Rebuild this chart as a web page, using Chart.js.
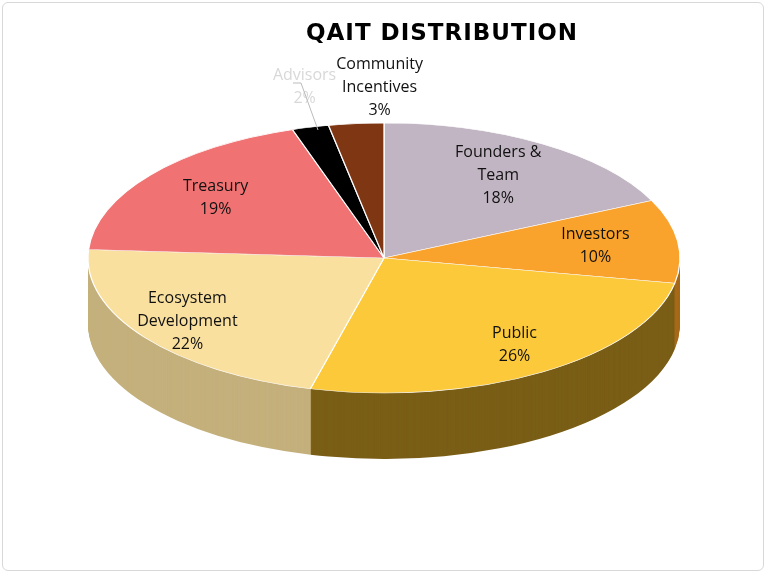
<!DOCTYPE html>
<html><head><meta charset="utf-8">
<script src="https://cdn.jsdelivr.net/npm/chart.js@4"></script>
<style>
html,body{margin:0;padding:0;background:#fff}
#wrap{position:absolute;left:2px;top:2px;width:762px;height:569px;border:1px solid #d8d8d8;border-radius:6px;box-sizing:border-box}
canvas{position:absolute;left:0;top:0}
</style></head><body>
<div id="wrap"></div>
<canvas id="c" width="768" height="575"></canvas>
<script>
const categories = ["Founders & Team","Investors","Public","Ecosystem Development","Treasury","Advisors","Community Incentives"];
const labelLines = [["Founders &","Team"],["Investors"],["Public"],["Ecosystem","Development"],["Treasury"],["Advisors"],["Community","Incentives"]];
const values = [18,10,26,22,19,2,3];
const colors = ["#C1B5C3","#F9A22C","#FCC93A","#FAE09F","#F07272","#000000","#7E3613"];
const sideColors = ["#8a7f8b","#a86a18","#7a5e16","#c4b07c","#a84c4c","#000000","#4a1f0a"];
const labelFactor = [0.72,0.72,0.76,0.8,0.72,1.31,1.27];
const labelDx = [0,0,10,-5,0,17,31];
const labelColor = ["#111","#111","#111","#111","#111","#d8d8d8","#111"];

const CX=384, CY=258, RX=296, RY=135, DEPTH=66;
function xf(ctx,el){
  const r=el.outerRadius;
  ctx.translate(CX,CY); ctx.scale(RX/r,RY/r); ctx.translate(-el.x,-el.y);
}
const pie3d={
  id:'pie3d',
  beforeDatasetsDraw(chart){
    const ctx=chart.ctx, meta=chart.getDatasetMeta(0);
    for(let d=DEPTH; d>=1; d--){
      meta.data.forEach((el,i)=>{
        ctx.save();
        ctx.translate(0,d);
        xf(ctx,el);
        ctx.fillStyle=sideColors[i];
        ctx.beginPath(); ctx.moveTo(el.x,el.y);
        ctx.arc(el.x,el.y,el.outerRadius,el.startAngle,el.endAngle);
        ctx.closePath(); ctx.fill();
        ctx.restore();
      });
    }
    ctx.save(); xf(ctx,meta.data[0]);
  },
  afterDatasetsDraw(chart){
    const ctx=chart.ctx; ctx.restore();
    const meta=chart.getDatasetMeta(0);
    ctx.save();
    ctx.textAlign='center'; ctx.textBaseline='middle';
    ctx.font='16px "Open Sans", Lato, sans-serif';
    meta.data.forEach((el,i)=>{
      const a=(el.startAngle+el.endAngle)/2, f=labelFactor[i];
      const x=CX+RX*f*Math.cos(a)+labelDx[i], y=CY+RY*f*Math.sin(a);
      const lines=[...labelLines[i], values[i]+'%'];
      ctx.fillStyle=labelColor[i];
      const lh=23, y0=y-(lines.length-1)*lh/2;
      lines.forEach((s,k)=>ctx.fillText(s,x,y0+k*lh));
    });
    ctx.strokeStyle='#bbb'; ctx.lineWidth=1;
    ctx.beginPath(); ctx.moveTo(293,83); ctx.lineTo(301,83); ctx.lineTo(318,130); ctx.stroke();
    ctx.font='bold 23px "DejaVu Sans", sans-serif'; ctx.fillStyle='#000';
    ctx.letterSpacing='1px';
    ctx.fillText('QAIT DISTRIBUTION',442,34);
    ctx.restore();
  }
};
new Chart(document.getElementById('c'),{
  type:'pie',
  data:{labels:categories,datasets:[{data:values,backgroundColor:colors,borderColor:'#ffffff',borderWidth:1}]},
  options:{responsive:false,animation:false,events:[],
    plugins:{legend:{display:false},tooltip:{enabled:false}},
    layout:{padding:60}},
  plugins:[pie3d]
});
</script></body></html>
